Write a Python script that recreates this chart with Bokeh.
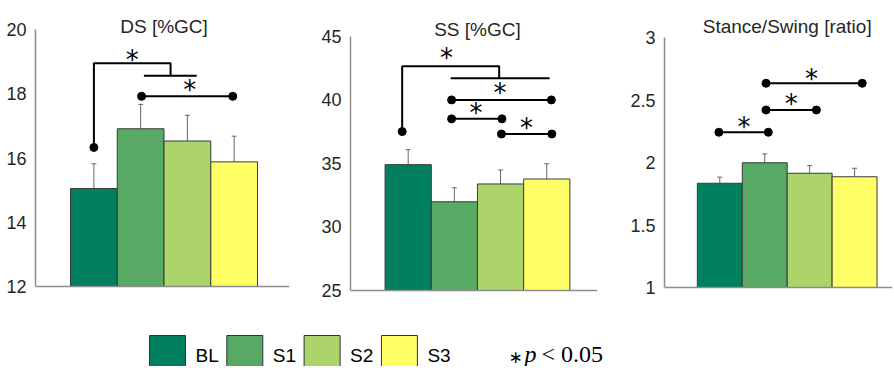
from bokeh.plotting import figure
from bokeh.layouts import row, column
from bokeh.models import Range1d, Span, Whisker, TeeHead, ColumnDataSource, FixedTicker
from bokeh.embed import file_html
from bokeh.resources import INLINE
from bokeh.core.properties import value

# ---------------- data ----------------
groups = ["BL", "S1", "S2", "S3"]
colors = ["#00805f", "#57a964", "#acd46b", "#ffff66"]
xpos = [1, 2, 3, 4]

# DS [%GC]
ds_mean = [15.05, 16.91, 16.53, 15.88]
ds_err = [0.77, 0.76, 0.80, 0.80]
ds_ticks = [12, 14, 16, 18, 20]
ds_tick_labels = ["12", "14", "16", "18", "20"]
ds_pair_x1 = [2.02]
ds_pair_x2 = [3.97]
ds_pair_y = [17.92]
ds_pair_star_x = [3.05]
ds_pair_star_y = [18.23]
ds_group = dict(dot_x=1.0, dot_y=16.33, top_y=18.95, drop_x=2.64,
                grp_y=18.56, grp_x0=2.07, grp_x1=3.2, star_x=1.82, star_y=19.18)

# SS [%GC]
ss_mean = [34.90, 31.98, 33.38, 33.77]
ss_err = [1.18, 1.10, 1.10, 1.20]
ss_ticks = [25, 30, 35, 40, 45]
ss_tick_labels = ["25", "30", "35", "40", "45"]
ss_pair_x1 = [1.94, 1.94, 3.02]
ss_pair_x2 = [4.10, 3.03, 4.11]
ss_pair_y = [39.99, 38.50, 37.31]
ss_pair_star_x = [2.99, 2.47, 3.56]
ss_pair_star_y = [40.88, 39.31, 38.13]
ss_group = dict(dot_x=0.87, dot_y=37.5, top_y=42.64, drop_x=2.97,
                grp_y=41.69, grp_x0=1.92, grp_x1=4.06, star_x=1.83, star_y=43.6)

# Stance/Swing [ratio]
sw_mean = [1.834, 1.998, 1.914, 1.886]
sw_err = [0.049, 0.071, 0.061, 0.068]
sw_ticks = [1, 1.5, 2, 2.5, 3]
sw_tick_labels = ["1", "1.5", "2", "2.5", "3"]
sw_pair_x1 = [0.98, 2.03, 2.03]
sw_pair_x2 = [2.08, 3.15, 4.17]
sw_pair_y = [2.242, 2.42, 2.634]
sw_pair_star_x = [1.54, 2.59, 3.04]
sw_pair_star_y = [2.32, 2.50, 2.70]

SANS = "Liberation Sans"
TXT = "#262626"
AXIS = "#8c8c8c"
FRAME_H = 280


def make_panel(title, mean, err, ticks, tick_labels, yr, xr, pair_x1, pair_x2, pair_y,
               star_x, star_y, group, width, bl, br, title_dy_px):
    p = figure(width=width, height=300, x_range=Range1d(*xr), y_range=Range1d(*yr),
               output_backend="svg", toolbar_location=None,
               min_border_left=bl, min_border_right=br, min_border_top=12, min_border_bottom=8)
    p.xaxis.visible = False
    p.grid.visible = False
    p.outline_line_color = None
    ya = p.yaxis[0]
    ya.ticker = FixedTicker(ticks=ticks)
    ya.major_label_overrides = {t: l for t, l in zip(ticks, tick_labels)}
    ya.bounds = (ticks[0], ticks[-1])
    ya.axis_line_color = AXIS
    ya.axis_line_width = 1.5
    ya.major_tick_line_color = None
    ya.minor_tick_line_color = None
    ya.major_label_standoff = 3
    ya.major_label_text_font = SANS
    ya.major_label_text_font_size = "18px"
    ya.major_label_text_color = TXT

    base = ticks[0]
    src = ColumnDataSource(dict(x=xpos, top=mean, color=colors,
                                up=[m + e for m, e in zip(mean, err)],
                                lo=[m - e for m, e in zip(mean, err)]))
    p.vbar(x="x", top="top", bottom=base, width=1.0, fill_color="color",
           line_color="#3a3a3a", line_width=1, source=src)
    p.add_layout(Span(location=base, dimension="width", line_color=AXIS, line_width=1.5))
    p.add_layout(Whisker(source=src, base="x", upper="up", lower="lo",
                         line_color="#666666", line_width=1,
                         upper_head=TeeHead(size=5, line_color="#666666", line_width=1),
                         lower_head=TeeHead(size=5, line_color="#666666", line_width=1)))

    # pairwise significance bars
    p.segment(x0=pair_x1, y0=pair_y, x1=pair_x2, y1=pair_y, line_color="black", line_width=2)
    p.scatter(x=pair_x1 + pair_x2, y=pair_y + pair_y, size=8, color="black")
    sx, sy = list(star_x), list(star_y)

    if group is not None:
        g = group
        p.line(x=[g["dot_x"], g["dot_x"], g["drop_x"], g["drop_x"]],
               y=[g["dot_y"], g["top_y"], g["top_y"], g["grp_y"]],
               line_color="black", line_width=2)
        p.segment(x0=[g["grp_x0"]], y0=[g["grp_y"]], x1=[g["grp_x1"]], y1=[g["grp_y"]],
                  line_color="black", line_width=2)
        p.scatter(x=[g["dot_x"]], y=[g["dot_y"]], size=8, color="black")
        sx.append(g["star_x"])
        sy.append(g["star_y"])

    p.text(x=sx, y=sy, text=["*"] * len(sx), text_align="center", text_baseline="middle",
           text_font=value("DejaVu Sans"), text_font_size="26px", text_color="black",
           y_offset=4)

    # title
    ppu = FRAME_H / (yr[1] - yr[0])
    p.text(x=[2.5], y=[ticks[-1] + title_dy_px / ppu], text=[title], text_align="center",
           text_baseline="middle", text_font=value(SANS), text_font_size="19px",
           text_color=TXT)
    return p


p1 = make_panel("DS [%GC]", ds_mean, ds_err, ds_ticks, ds_tick_labels,
                (11.813, 20.53), (-0.249, 5.184),
                ds_pair_x1, ds_pair_x2, ds_pair_y, ds_pair_star_x, ds_pair_star_y,
                ds_group, 318, 35, 29, 3)
p2 = make_panel("SS [%GC]", ss_mean, ss_err, ss_ticks, ss_tick_labels,
                (24.843, 46.866), (-0.249, 5.099),
                ss_pair_x1, ss_pair_x2, ss_pair_y, ss_pair_star_x, ss_pair_star_y,
                ss_group, 309, 29, 30, 6.7)
p3 = make_panel("Stance/Swing [ratio]", sw_mean, sw_err, sw_ticks, sw_tick_labels,
                (0.96, 3.2), (-0.231, 4.844),
                sw_pair_x1, sw_pair_x2, sw_pair_y, sw_pair_star_x, sw_pair_star_y,
                None, 266, 29, 1, 11.5)

# ---------------- legend strip ----------------
leg = figure(width=892, height=66, x_range=Range1d(0, 892), y_range=Range1d(366, 300),
             output_backend="svg", toolbar_location=None,
             min_border=0, min_border_left=0, min_border_right=0,
             min_border_top=0, min_border_bottom=0)
leg.axis.visible = False
leg.grid.visible = False
leg.outline_line_color = None
leg_x0, leg_step, box_w = 149, 77.3, 36
bx = [leg_x0 + i * leg_step for i in range(len(groups))]
leg.quad(left=bx, right=[b + box_w for b in bx], top=[335] * 4, bottom=[372] * 4,
         fill_color=colors, line_color="#333333", line_width=1)
leg.text(x=[b + box_w + 10 for b in bx], y=[355] * 4, text=groups, text_align="left",
         text_baseline="middle",
         text_font=value("'Liberation Sans Narrow', 'Liberation Sans', sans-serif"),
         text_font_size="19px", text_color="black")
leg.text(x=[515], y=[356], text=["\u2217"], text_align="center", text_baseline="middle",
         text_font=value("DejaVu Sans"), text_font_size="17px", text_color="black")
leg.text(x=[524], y=[353], text=["p"], text_baseline="middle", text_font_style="italic",
         text_font=value("Liberation Serif"), text_font_size="24px", text_color="black")
leg.text(x=[541], y=[353], text=["< 0.05"], text_baseline="middle",
         text_font=value("Liberation Serif"), text_font_size="24px", text_color="black")

layout = column(row(p1, p2, p3), leg)
open("out.html", "w").write(file_html(layout, INLINE))
